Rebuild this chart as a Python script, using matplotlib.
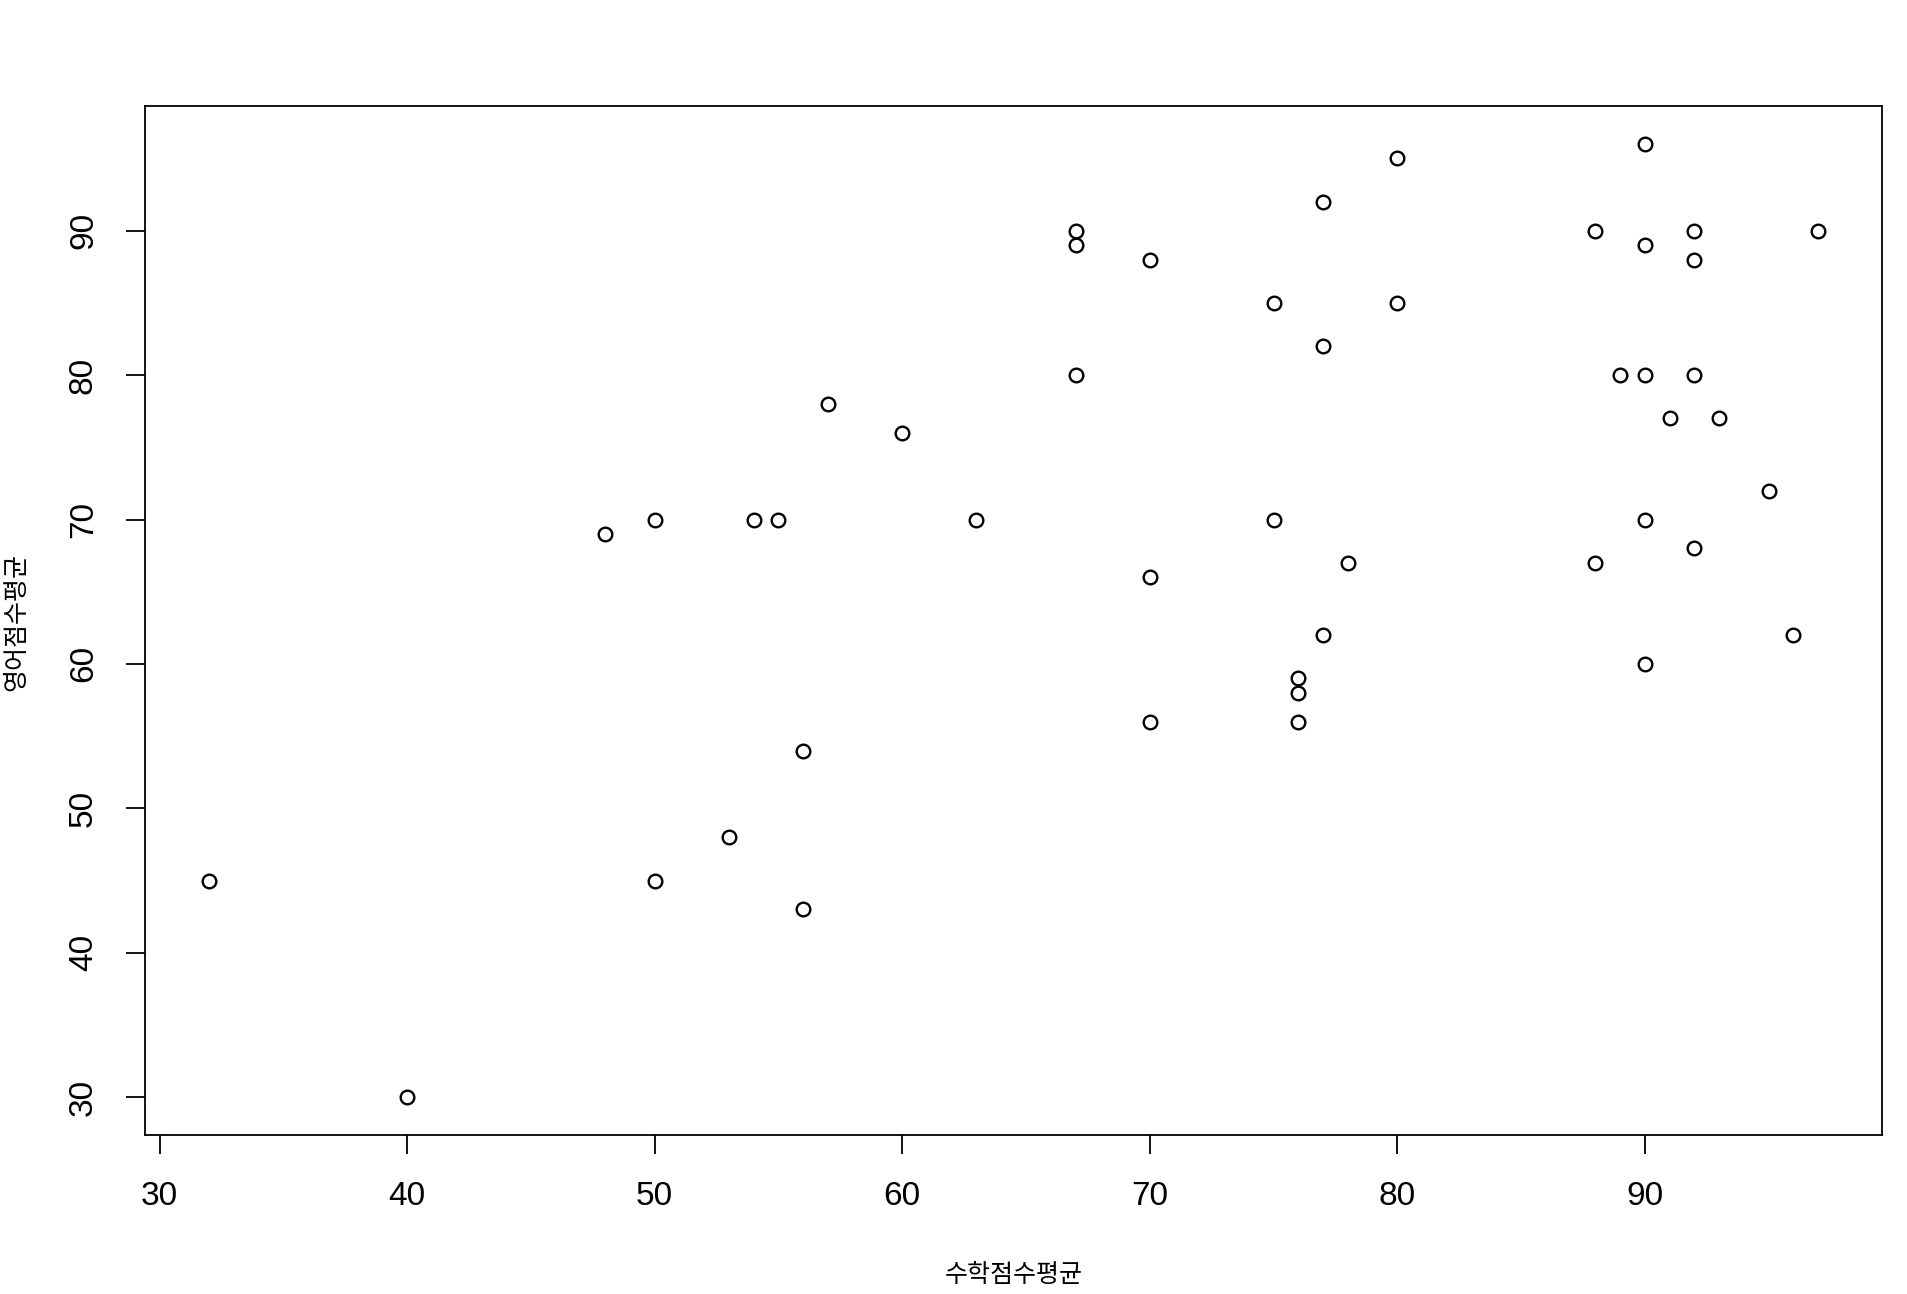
import matplotlib
matplotlib.use("Agg")
import matplotlib.pyplot as plt

# 수학 / 영어 점수 평균
math_avg = [32, 40, 48, 50, 50, 53, 54, 55, 56, 56, 57, 60, 63,
            67, 67, 67, 70, 70, 70, 75, 75, 77, 77, 77, 76, 76, 76, 78,
            80, 80, 88, 88, 89, 90, 90, 90, 90, 90, 91, 92, 92, 92, 92,
            93, 95, 96, 97]
eng_avg = [45, 30, 69, 70, 45, 48, 70, 70, 54, 43, 78, 76, 70,
           90, 89, 80, 88, 66, 56, 85, 70, 92, 82, 62, 59, 58, 56, 67,
           95, 85, 90, 67, 80, 96, 89, 80, 70, 60, 77, 90, 88, 80, 68,
           77, 72, 62, 90]
xticks = [30, 40, 50, 60, 70, 80, 90]
yticks = [30, 40, 50, 60, 70, 80, 90]

fig = plt.figure(figsize=(19.08, 12.94), dpi=100)
ax = fig.add_axes([0.0759, 0.1226, 0.9107, 0.7956])

ax.plot(math_avg, eng_avg, linestyle='none', marker='o', markersize=9.8,
        markerfacecolor='none', markeredgecolor='black', markeredgewidth=1.7)

# R style 4% padding
xr = max(math_avg) - min(math_avg)
yr = max(eng_avg) - min(eng_avg)
ax.set_xlim(min(math_avg) - 0.04 * xr, max(math_avg) + 0.04 * xr)
ax.set_ylim(min(eng_avg) - 0.04 * yr, max(eng_avg) + 0.04 * yr)

ax.set_xticks(xticks)
ax.set_yticks(yticks)
ax.set_xticklabels([str(v) for v in xticks], fontfamily='Liberation Sans', fontsize=24)
ax.set_yticklabels([str(v) for v in yticks], fontfamily='Liberation Sans', fontsize=24,
                   rotation=90, va='center')
ax.tick_params(direction='out', length=14, width=1.3, pad=19, colors='black')
for s in ax.spines.values():
    s.set_linewidth(1.3)
    s.set_color('black')

fig.text(0.5312, 0.0145, '수학점수평균', ha='center', va='center',
         fontfamily='Noto Sans CJK KR', fontsize=18)
fig.text(0.0085, 0.5195, '영어점수평균', ha='center', va='center', rotation=90,
         fontfamily='Noto Sans CJK KR', fontsize=18)

fig.savefig('out.png', dpi=100)
